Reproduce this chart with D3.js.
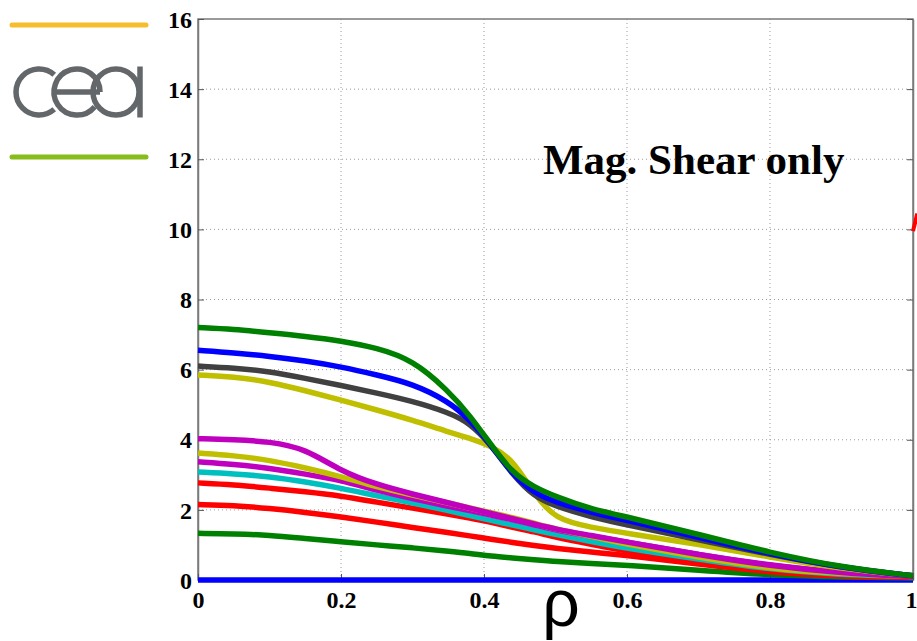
<!DOCTYPE html>
<html>
<head>
<meta charset="utf-8">
<script src="https://cdn.jsdelivr.net/npm/d3@7"></script>
<style>
  html, body { margin: 0; padding: 0; background: #fff; }
  svg { display: block; }
</style>
</head>
<body>
<svg id="chart" width="917" height="641"></svg>
<script>
// Normalised radius grid shared by every profile
const rho = [0, 0.05, 0.1, 0.15, 0.2, 0.25, 0.3, 0.35, 0.38, 0.41, 0.44, 0.47, 0.5, 0.55, 0.6, 0.7, 0.8, 0.9, 1.0];

// Profiles (one array per curve)
const greenHigh   = [7.2, 7.15, 7.05, 6.95, 6.82, 6.62, 6.28, 5.4, 4.7, 3.85, 3.05, 2.65, 2.38, 2.02, 1.8, 1.3, 0.78, 0.36, 0.12];
const blueHigh    = [6.55, 6.48, 6.38, 6.25, 6.08, 5.85, 5.6, 5.1, 4.58, 3.85, 3.0, 2.48, 2.22, 1.93, 1.7, 1.22, 0.74, 0.35, 0.12];
const grayHigh    = [6.1, 6.05, 5.95, 5.75, 5.55, 5.33, 5.1, 4.78, 4.48, 3.85, 3.0, 2.38, 2.1, 1.8, 1.57, 1.15, 0.72, 0.35, 0.12];
const oliveHigh   = [5.85, 5.8, 5.65, 5.4, 5.13, 4.85, 4.56, 4.22, 4.05, 3.82, 3.45, 2.45, 1.72, 1.5, 1.33, 1.02, 0.65, 0.32, 0.12];
const magentaHigh = [4.03, 4.0, 3.95, 3.75, 3.1, 2.72, 2.45, 2.2, 2.05, 1.9, 1.75, 1.6, 1.45, 1.27, 1.08, 0.72, 0.4, 0.2, 0.1];
const oliveLow    = [3.62, 3.55, 3.42, 3.2, 2.95, 2.65, 2.42, 2.2, 2.05, 1.92, 1.78, 1.62, 1.45, 1.25, 1.02, 0.65, 0.32, 0.18, 0.1];
const magentaLow  = [3.37, 3.3, 3.19, 3.02, 2.85, 2.55, 2.32, 2.1, 1.98, 1.85, 1.72, 1.58, 1.42, 1.25, 1.08, 0.72, 0.42, 0.2, 0.1];
const cyanMid     = [3.08, 3.03, 2.95, 2.8, 2.62, 2.4, 2.2, 1.98, 1.84, 1.7, 1.57, 1.43, 1.3, 1.1, 0.9, 0.6, 0.3, 0.15, 0.1];
const redHigh     = [2.77, 2.72, 2.62, 2.52, 2.4, 2.22, 2.05, 1.88, 1.77, 1.65, 1.5, 1.38, 1.22, 1.02, 0.82, 0.5, 0.25, 0.12, 0.08];
const redLow      = [2.15, 2.13, 2.04, 1.93, 1.8, 1.65, 1.5, 1.35, 1.26, 1.16, 1.07, 0.98, 0.9, 0.8, 0.7, 0.45, 0.22, 0.1, 0.08];
const greenLow    = [1.33, 1.32, 1.28, 1.18, 1.09, 1.0, 0.92, 0.82, 0.76, 0.68, 0.63, 0.58, 0.53, 0.47, 0.42, 0.28, 0.14, 0.08, 0.06];
const blueZero    = [0, 0, 0, 0, 0, 0, 0, 0, 0, 0, 0, 0, 0, 0, 0, 0, 0, 0, 0];

// Short stray trace at the right edge
const strayRho = [1.0, 1.006];
const strayVal = [9.95, 10.45];

// Axis ticks
const xTicks = [0, 0.2, 0.4, 0.6, 0.8, 1];
const xTickLabels = ["0", "0.2", "0.4", "0.6", "0.8", "1"];
const yTicks = [0, 2, 4, 6, 8, 10, 12, 14, 16];

const titleText = "Mag. Shear only";
const xLabel = "ρ";

const series = [
  { values: blueZero,    color: "#0000ff" },
  { values: greenLow,    color: "#008000" },
  { values: redLow,      color: "#ff0000" },
  { values: redHigh,     color: "#ff0000" },
  { values: cyanMid,     color: "#00bfbf" },
  { values: magentaLow,  color: "#bf00bf" },
  { values: oliveLow,    color: "#bfbf00" },
  { values: magentaHigh, color: "#bf00bf" },
  { values: oliveHigh,   color: "#bfbf00" },
  { values: grayHigh,    color: "#404040" },
  { values: blueHigh,    color: "#0000ff" },
  { values: greenHigh,   color: "#008000" }
];

const svg = d3.select("#chart");

const x = d3.scaleLinear().domain([0, 1]).range([198, 913]);
const y = d3.scaleLinear().domain([0, 16]).range([580, 19]);

// ---- logo block on the left ----
const logo = svg.append("g");
logo.append("line").attr("x1", 12).attr("x2", 146).attr("y1", 25).attr("y2", 25)
  .attr("stroke", "#f6bd2c").attr("stroke-width", 5).attr("stroke-linecap", "round");
logo.append("line").attr("x1", 12).attr("x2", 146).attr("y1", 157).attr("y2", 157)
  .attr("stroke", "#86bd1c").attr("stroke-width", 5).attr("stroke-linecap", "round");

const lg = logo.append("g").attr("fill", "none").attr("stroke", "#63676a").attr("stroke-width", 5.5);
const r = 23;
const cy = 92;
const arc = (cx, a0, a1) => {
  const p = d3.path();
  p.arc(cx, cy, r, a0, a1);
  return p.toString();
};
// c
lg.append("path").attr("d", arc(39, Math.PI * 0.27, Math.PI * 1.73));
// e
lg.append("path").attr("d", arc(77, Math.PI * 0.22, Math.PI * 2));
lg.append("line").attr("x1", 54).attr("x2", 100).attr("y1", cy).attr("y2", cy);
// a
lg.append("path").attr("d", arc(116, 0, Math.PI * 2));
lg.append("line").attr("x1", 140).attr("x2", 140).attr("y1", cy - r - 2.5).attr("y2", cy + r + 2.5);

// ---- grid ----
const grid = svg.append("g").attr("stroke", "#9a9a9a").attr("stroke-width", 1)
  .attr("stroke-dasharray", "1,3");
grid.selectAll("line.gx").data(xTicks.filter(d => d > 0 && d < 1)).join("line")
  .attr("x1", d => x(d)).attr("x2", d => x(d)).attr("y1", y(0)).attr("y2", y(16));
grid.selectAll("line.gy").data(yTicks.filter(d => d > 0 && d < 16)).join("line")
  .attr("x1", x(0)).attr("x2", x(1)).attr("y1", d => y(d)).attr("y2", d => y(d));

// ---- frame ----
svg.append("rect").attr("x", x(0)).attr("y", y(16)).attr("width", x(1) - x(0)).attr("height", y(0) - y(16))
  .attr("fill", "none").attr("stroke", "#7a7a7a").attr("stroke-width", 1.5);

// ---- axes ----
const tickFont = "'Liberation Serif', 'Times New Roman', serif";
const yAxis = svg.append("g").attr("transform", `translate(${x(0)},0)`)
  .call(d3.axisLeft(y).tickValues(yTicks).tickFormat(d3.format("d")).tickSizeInner(-6).tickSizeOuter(0).tickPadding(6));
const yAxisR = svg.append("g").attr("transform", `translate(${x(1)},0)`)
  .call(d3.axisRight(y).tickValues(yTicks).tickFormat("").tickSizeInner(-6).tickSizeOuter(0));
const xAxis = svg.append("g").attr("transform", `translate(0,${y(0)})`)
  .call(d3.axisBottom(x).tickValues(xTicks).tickFormat((d, i) => xTickLabels[i]).tickSizeInner(-6).tickSizeOuter(0).tickPadding(8));

[yAxis, yAxisR, xAxis].forEach(g => {
  g.select(".domain").attr("stroke", "#7a7a7a").attr("stroke-width", 1.5);
  g.selectAll(".tick line").attr("stroke", "#555");
  g.selectAll("text").attr("font-family", tickFont).attr("font-weight", "bold")
    .attr("font-size", 24).attr("fill", "#000");
});
yAxis.selectAll("text").attr("dy", "0.34em");
xAxis.selectAll("text").attr("dy", "0.85em");
// keep the last x label inside the canvas
xAxis.selectAll("text").filter(d => d === 1).attr("text-anchor", "end").attr("dx", 4);

// ---- profiles ----
const line = d3.line().x((d, i) => x(rho[i])).y(d => y(d)).curve(d3.curveBasis);
svg.append("g").selectAll("path").data(series).join("path")
  .attr("d", d => line(d.values))
  .attr("fill", "none")
  .attr("stroke", d => d.color)
  .attr("stroke-width", 5.5)
  .attr("stroke-linejoin", "round");

svg.append("path")
  .attr("d", d3.line().x((d, i) => x(strayRho[i])).y(d => y(d))(strayVal))
  .attr("stroke", "#ff0000").attr("stroke-width", 4).attr("fill", "none");

// ---- labels ----
svg.append("text").attr("x", 543).attr("y", 174)
  .attr("font-family", tickFont).attr("font-weight", "bold").attr("font-size", 43)
  .attr("fill", "#000").text(titleText);

svg.append("text").attr("x", 561).attr("y", 626).attr("text-anchor", "middle")
  .attr("font-family", "'Liberation Sans', Arial, sans-serif").attr("font-size", 66)
  .attr("fill", "#000").text(xLabel);
</script>
</body>
</html>
